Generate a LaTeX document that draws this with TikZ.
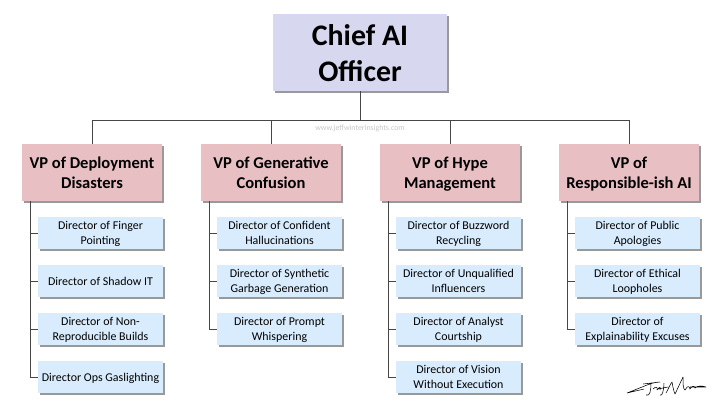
\documentclass[tikz,border=0pt]{standalone}
\usepackage{fontspec}
\setmainfont{Carlito}
\usepackage{tikz}
\usetikzlibrary{calc,shadows}
\definecolor{chieffill}{RGB}{215,215,240}
\definecolor{vpfill}{RGB}{232,192,196}
\definecolor{dirfill}{RGB}{217,236,253}
\definecolor{linegray}{RGB}{70,70,70}
\tikzset{
  boxshadow/.style={drop shadow={shadow xshift=1.6pt,shadow yshift=-1.6pt,fill=black,opacity=0.4}},
  chiefbox/.style={fill=chieffill,boxshadow,text height=43pt,text depth=0pt,minimum width=130.5pt,minimum height=57.75pt,inner sep=2pt,align=center,font=\bfseries\fontsize{22.4}{26.5}\selectfont},
  vpbox/.style={fill=vpfill,boxshadow,text height=26.3pt,text depth=3pt,minimum width=105pt,minimum height=42.75pt,inner sep=2pt,align=center,font=\bfseries\fontsize{12.4}{15}\selectfont},
  dirbox/.style={fill=dirfill,boxshadow,text height=18.5pt,text depth=2pt,minimum width=93.75pt,minimum height=24pt,inner sep=0pt,align=center,font=\fontsize{8.95}{11.2}\selectfont},
  oneline/.style={text height=8.5pt},
  orgline/.style={draw=linegray,line width=0.75pt},
}
\begin{document}
\begin{tikzpicture}[x=0.75pt,y=-0.75pt]
      \useasboundingbox (0,0) rectangle (720,405);
      \fill[white] (0,0) rectangle (720,405);
      % connector coordinates
      \coordinate (bus) at (360,120.5);
      \coordinate (trunkA) at (30,377);
      \coordinate (trunkB) at (209,329);
      \coordinate (trunkC) at (388,377);
      \coordinate (trunkD) at (567,329);
      % top
      \node[chiefbox] (chief) at (360,52.5) {Chief AI\\Officer};
      % vice presidents
      \node[vpbox] (vpA) at (92,172.5) {VP of Deployment\\Disasters};
      \node[vpbox] (vpB) at (271,172.5) {VP of Generative\\Confusion};
      \node[vpbox] (vpC) at (450,172.5) {VP of Hype\\Management};
      \node[vpbox] (vpD) at (629,172.5) {VP of\\Responsible-ish AI};
      % directors, first column
      \node[dirbox] (a1) at (100.5,233) {Director of Finger\\Pointing};
      \node[dirbox,oneline] (a2) at (100.5,281) {Director of Shadow IT};
      \node[dirbox] (a3) at (100.5,329) {Director of Non-\\Reproducible Builds};
      \node[dirbox,oneline] (a4) at (100.5,377) {Director Ops Gaslighting};
      % second column
      \node[dirbox] (b1) at (279.5,233) {Director of Confident\\Hallucinations};
      \node[dirbox] (b2) at (279.5,281) {Director of Synthetic\\Garbage Generation};
      \node[dirbox] (b3) at (279.5,329) {Director of Prompt\\Whispering};
      % third column
      \node[dirbox] (c1) at (458.5,233) {Director of Buzzword\\Recycling};
      \node[dirbox] (c2) at (458.5,281) {Director of Unqualified\\Influencers};
      \node[dirbox] (c3) at (458.5,329) {Director of Analyst\\Courtship};
      \node[dirbox] (c4) at (458.5,377) {Director of Vision\\Without Execution};
      % fourth column
      \node[dirbox] (d1) at (637.5,233) {Director of Public\\Apologies};
      \node[dirbox] (d2) at (637.5,281) {Director of Ethical\\Loopholes};
      \node[dirbox] (d3) at (637.5,329) {Director of\\Explainability Excuses};
      % lines
      \draw[orgline] (chief.south) -- (bus);
      \draw[orgline] (vpA.north) |- (bus) -| (vpD.north);
      \draw[orgline] (vpB.north) -- (vpB.north |- bus);
      \draw[orgline] (vpC.north) -- (vpC.north |- bus);
      \draw[orgline] (vpA.south -| trunkA) -- (trunkA) -- (a4.west);
      \draw[orgline] (a1.west) -- (a1.west -| trunkA);
      \draw[orgline] (a2.west) -- (a2.west -| trunkA);
      \draw[orgline] (a3.west) -- (a3.west -| trunkA);
      \draw[orgline] (vpB.south -| trunkB) -- (trunkB) -- (b3.west);
      \draw[orgline] (b1.west) -- (b1.west -| trunkB);
      \draw[orgline] (b2.west) -- (b2.west -| trunkB);
      \draw[orgline] (vpC.south -| trunkC) -- (trunkC) -- (c4.west);
      \draw[orgline] (c1.west) -- (c1.west -| trunkC);
      \draw[orgline] (c2.west) -- (c2.west -| trunkC);
      \draw[orgline] (c3.west) -- (c3.west -| trunkC);
      \draw[orgline] (vpD.south -| trunkD) -- (trunkD) -- (d3.west);
      \draw[orgline] (d1.west) -- (d1.west -| trunkD);
      \draw[orgline] (d2.west) -- (d2.west -| trunkD);
      % watermark
      \node[text=black!22,font=\fontsize{5.9}{7}\selectfont] (mark) at (360,128.5) {www.jeffwinterinsights.com};
      % signature
      \draw[black,line width=0.4pt,line join=round]
        (644,389) -- (627,393) -- (647,385)
        .. controls (650,384) and (655,382) .. (660,382)
        -- (643,384)
        (651,383) .. controls (651,390) and (650,397) .. (646,395)
        (653,389) .. controls (656,386) and (658,387) .. (657,390)
        .. controls (660,386) and (661,387) .. (660,390)
        (664,383) .. controls (664,390) and (662,397) .. (660,395)
        (658,389) -- (668,387)
        (666,393) .. controls (669,388) and (670,384) .. (672,382)
        .. controls (673,388) and (674,392) .. (675,394)
        .. controls (678,388) and (681,381) .. (683,377)
        .. controls (683,384) and (683,389) .. (685,390)
        .. controls (688,385) and (689,386) .. (690,389)
        .. controls (692,386) and (694,385) .. (695,388)
        .. controls (698,385) and (703,386) .. (706,387)
        -- (690,387);
\end{tikzpicture}
\end{document}
